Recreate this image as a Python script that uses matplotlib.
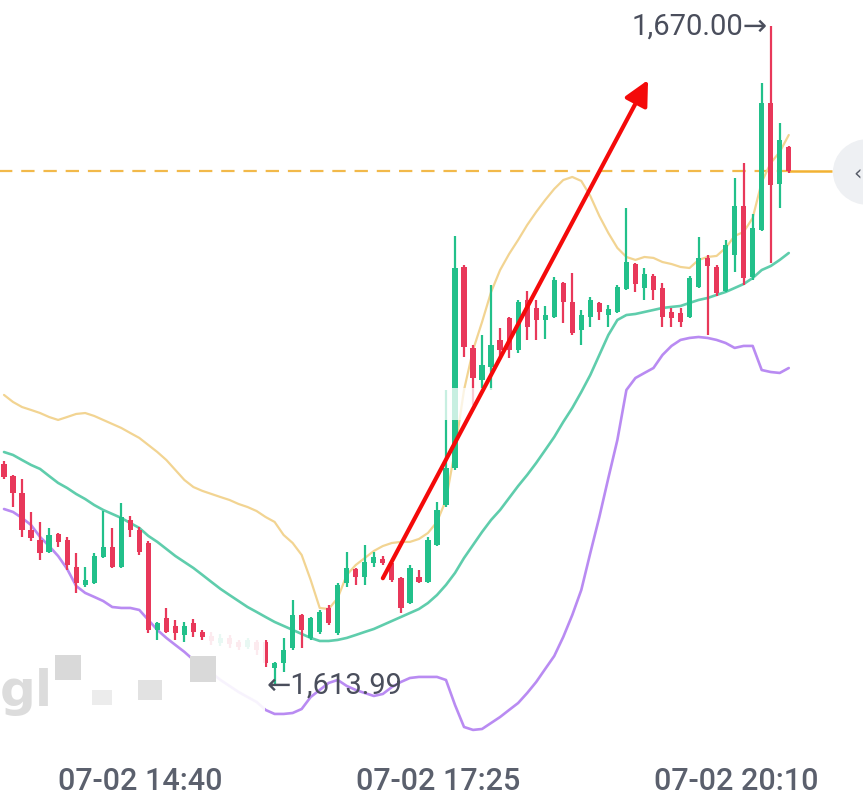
import matplotlib
matplotlib.use("Agg")
import matplotlib.pyplot as plt
from matplotlib.patches import Rectangle, Circle
from matplotlib.transforms import blended_transform_factory
import numpy as np

# ---------------- data (5-minute candles, 07-02) ----------------
opens = [1632.72, 1631.70, 1630.26, 1627.11, 1626.26, 1625.23, 1626.77, 1626.26, 1623.96, 1622.43,
         1622.60, 1624.81, 1625.66, 1623.96, 1627.96, 1627.11, 1626.00, 1618.60, 1619.62, 1618.94,
         1618.17, 1619.19, 1618.43, 1618.09, 1617.49, 1617.92, 1617.58, 1617.15, 1617.58, 1617.58,
         1615.36, 1615.79, 1617.07, 1619.87, 1617.92, 1618.43, 1620.47, 1618.34, 1622.60, 1623.79,
         1623.11, 1624.30, 1624.64, 1624.30, 1623.02, 1620.89, 1623.11, 1622.68, 1625.83, 1629.23,
         1632.38, 1649.49, 1642.60, 1639.87, 1640.98, 1643.28, 1645.15, 1642.43, 1646.68, 1646.00,
         1644.98, 1645.23, 1648.13, 1646.51, 1644.13, 1645.23, 1646.43, 1645.40, 1645.66, 1647.62,
         1649.74, 1647.70, 1648.72, 1647.70, 1645.66, 1645.57, 1645.23, 1647.79, 1650.28, 1649.49,
         1647.45, 1650.53, 1654.68, 1648.64, 1652.64, 1663.44, 1656.55, 1659.70]
highs = [1632.98, 1631.79, 1631.45, 1628.64, 1627.79, 1627.28, 1626.85, 1626.51, 1625.15, 1623.96,
         1625.15, 1628.72, 1627.28, 1629.40, 1628.30, 1627.36, 1626.17, 1619.28, 1620.47, 1619.45,
         1619.28, 1619.53, 1618.60, 1618.43, 1618.26, 1618.17, 1617.75, 1617.92, 1617.75, 1617.75,
         1615.87, 1617.92, 1621.15, 1619.96, 1619.70, 1620.30, 1620.72, 1622.60, 1625.23, 1623.87,
         1625.83, 1625.23, 1624.89, 1624.47, 1623.11, 1624.13, 1623.70, 1626.51, 1629.49, 1639.02,
         1652.13, 1649.66, 1642.85, 1643.70, 1647.96, 1644.30, 1645.23, 1646.68, 1647.45, 1646.68,
         1646.17, 1648.64, 1648.21, 1649.00, 1645.83, 1646.94, 1646.51, 1646.26, 1647.96, 1654.51,
         1649.83, 1649.40, 1648.89, 1648.13, 1646.00, 1646.00, 1648.72, 1652.04, 1650.53, 1649.66,
         1651.79, 1657.06, 1658.34, 1654.00, 1665.15, 1670.00, 1661.74, 1659.79]
lows = [1631.45, 1629.06, 1626.51, 1626.17, 1624.55, 1625.15, 1625.66, 1623.70, 1621.75, 1622.26,
        1622.51, 1624.72, 1623.87, 1623.87, 1626.51, 1624.98, 1618.34, 1617.75, 1618.34, 1617.75,
        1617.58, 1618.00, 1617.75, 1617.32, 1617.24, 1617.07, 1616.90, 1616.98, 1616.47, 1615.45,
        1613.99, 1615.02, 1616.90, 1617.07, 1617.75, 1618.26, 1619.02, 1618.17, 1622.26, 1622.43,
        1622.43, 1623.96, 1624.13, 1622.68, 1620.04, 1620.81, 1622.60, 1622.60, 1625.75, 1629.06,
        1632.21, 1641.83, 1637.74, 1639.19, 1639.02, 1641.75, 1641.75, 1642.17, 1643.28, 1643.28,
        1643.36, 1645.15, 1644.72, 1643.70, 1642.85, 1644.38, 1644.98, 1644.38, 1645.57, 1647.53,
        1647.36, 1646.68, 1646.68, 1644.38, 1644.38, 1644.38, 1645.15, 1647.70, 1643.70, 1647.02,
        1647.36, 1649.06, 1647.96, 1648.38, 1652.55, 1649.83, 1654.51, 1657.49]
closes = [1631.62, 1630.26, 1627.11, 1626.43, 1625.15, 1626.68, 1626.09, 1624.13, 1622.60, 1622.85,
          1624.89, 1625.66, 1623.96, 1628.21, 1627.11, 1625.23, 1618.60, 1619.19, 1618.43, 1618.34,
          1618.94, 1618.43, 1618.00, 1617.66, 1617.92, 1617.41, 1617.15, 1617.75, 1616.90, 1615.79,
          1615.79, 1616.90, 1619.87, 1618.60, 1619.62, 1620.13, 1619.19, 1622.43, 1623.87, 1623.11,
          1624.38, 1624.81, 1624.30, 1622.85, 1620.47, 1623.87, 1622.68, 1626.26, 1628.81, 1632.38,
          1649.40, 1642.68, 1640.04, 1641.15, 1642.85, 1642.43, 1642.43, 1646.51, 1644.38, 1644.98,
          1645.40, 1648.38, 1646.51, 1643.87, 1645.40, 1646.68, 1645.66, 1645.91, 1647.79, 1649.91,
          1648.04, 1648.89, 1647.53, 1645.23, 1645.15, 1644.81, 1648.55, 1650.28, 1649.60, 1647.28,
          1651.36, 1654.68, 1648.55, 1652.81, 1663.44, 1656.47, 1660.30, 1657.66]

boll_upper = [1638.60, 1638.00, 1637.57, 1637.32, 1637.06, 1636.72, 1636.47, 1636.72, 1636.98, 1637.06,
              1636.81, 1636.47, 1636.13, 1635.79, 1635.36, 1634.94, 1634.34, 1633.74, 1633.06, 1632.21,
              1631.36, 1630.76, 1630.43, 1630.17, 1629.91, 1629.66, 1629.32, 1629.06, 1628.72, 1628.21,
              1627.79, 1626.68, 1626.00, 1624.98, 1622.85, 1620.47, 1620.38, 1621.32, 1623.28, 1624.13,
              1624.72, 1625.32, 1625.74, 1626.00, 1626.09, 1626.09, 1626.34, 1626.85, 1627.79, 1629.66,
              1633.91, 1639.02, 1642.43, 1644.81, 1647.36, 1649.23, 1650.60, 1651.79, 1653.06, 1654.17,
              1655.19, 1656.13, 1656.89, 1657.15, 1656.81, 1655.53, 1653.83, 1652.38, 1651.11, 1650.34,
              1650.09, 1650.34, 1650.26, 1649.91, 1649.74, 1649.49, 1649.40, 1650.09, 1650.34, 1650.43,
              1651.11, 1652.13, 1652.47, 1653.66, 1656.72, 1658.34, 1659.28, 1660.72]
boll_mid = [1633.74, 1633.49, 1633.06, 1632.64, 1632.30, 1631.70, 1631.11, 1630.68, 1630.17, 1629.74,
            1629.23, 1628.81, 1628.47, 1628.13, 1627.70, 1627.28, 1626.60, 1626.09, 1625.49, 1624.89,
            1624.38, 1623.87, 1623.28, 1622.68, 1622.09, 1621.57, 1621.06, 1620.55, 1620.13, 1619.70,
            1619.28, 1618.94, 1618.60, 1618.26, 1617.92, 1617.66, 1617.66, 1617.75, 1617.92, 1618.17,
            1618.43, 1618.68, 1619.02, 1619.36, 1619.70, 1620.04, 1620.38, 1620.89, 1621.57, 1622.43,
            1623.45, 1624.72, 1625.83, 1626.94, 1627.96, 1628.81, 1629.83, 1630.85, 1631.79, 1632.81,
            1633.91, 1635.02, 1636.30, 1637.49, 1638.85, 1640.30, 1642.00, 1643.70, 1644.98, 1645.40,
            1645.49, 1645.66, 1645.83, 1646.00, 1646.09, 1646.17, 1646.43, 1646.68, 1646.85, 1647.11,
            1647.36, 1647.70, 1648.04, 1648.55, 1649.23, 1649.57, 1650.09, 1650.68]
boll_lower = [1628.89, 1628.64, 1628.13, 1627.53, 1626.51, 1625.74, 1624.89, 1623.79, 1622.34, 1621.75,
              1621.41, 1621.06, 1620.55, 1620.47, 1620.47, 1620.30, 1619.45, 1618.60, 1617.92, 1617.32,
              1616.73, 1616.05, 1615.45, 1614.94, 1614.34, 1613.83, 1613.32, 1612.89, 1612.47, 1611.79,
              1611.45, 1611.45, 1611.53, 1611.87, 1612.89, 1613.49, 1614.09, 1614.34, 1613.83, 1613.49,
              1613.23, 1612.98, 1613.15, 1613.74, 1614.17, 1614.51, 1614.60, 1614.60, 1614.60, 1614.34,
              1612.21, 1610.34, 1610.09, 1610.17, 1610.68, 1611.19, 1611.79, 1612.38, 1613.23, 1614.17,
              1615.28, 1616.38, 1618.00, 1619.87, 1622.00, 1625.15, 1628.21, 1631.53, 1634.77, 1639.02,
              1640.04, 1640.47, 1640.89, 1642.00, 1642.77, 1643.28, 1643.45, 1643.53, 1643.45, 1643.28,
              1643.02, 1642.60, 1642.77, 1642.77, 1640.72, 1640.55, 1640.47, 1640.89]

tick_index = [15, 48, 81]
tick_labels = ["07-02 14:40", "07-02 17:25", "07-02 20:10"]
high_label = "1,670.00→"
low_label = "←1,613.99"
high_value = 1670.00
low_value = 1613.99
last_price = closes[-1]
arrow_start = (42.0, 1623.0)
arrow_end = (71.4, 1665.4)

# ---------------- styling ----------------
GREEN = "#22c08a"
RED = "#e8385a"
C_UP = "#f2d492"
C_MID = "#5fcdac"
C_LOW = "#b98bf2"

fig = plt.figure(figsize=(8.63, 8.07), dpi=100)
ax = fig.add_axes([0, 0, 1, 1])
ax.set_xlim(-0.443, 95.23)
ax.set_ylim(1603.53, 1672.21)
ax.axis("off")

x = np.arange(len(opens))
o = np.array(opens); h = np.array(highs); l = np.array(lows); c = np.array(closes)
up = c >= o
cols = np.where(up, GREEN, RED)

# bands
ax.plot(x, boll_upper, color=C_UP, lw=1.6, zorder=2, solid_capstyle="round")
ax.plot(x, boll_mid, color=C_MID, lw=1.9, zorder=2, solid_capstyle="round")
ax.plot(x, boll_lower, color=C_LOW, lw=1.9, zorder=2, solid_capstyle="round")

# candles
ax.vlines(x, l, h, colors=cols, lw=1.6, zorder=3)
bottoms = np.minimum(o, c)
heights = np.maximum(np.abs(c - o), 0.12)
ax.bar(x, heights, bottom=bottoms, width=0.58, color=cols, zorder=4, linewidth=0)

# current price line
ax.hlines(last_price, -1, len(opens) - 1, colors="#f2b94a", lw=1.6,
          linestyles=(0, (6, 4)), zorder=1)
ax.hlines(last_price, len(opens) - 1, len(opens) + 3.8, colors="#f2b233", lw=1.8, zorder=1)

# right-side circle button
circ = Circle((1.006, 1 - 172 / 807), 0.04, transform=ax.transAxes, color="#eef0f3",
              zorder=5, clip_on=False)
ax.add_patch(circ)
ax.text(853 / 863, 1 - 173 / 807, "‹", transform=ax.transAxes, fontsize=15, color="#555a66",
        ha="left", va="center", zorder=6)

# watermark fades
for (x0, y0, w, hh, a) in [(205, 628, 60, 95, 0.9), (440, 388, 90, 32, 0.75)]:
    ax.add_patch(Rectangle((x0 / 863, 1 - (y0 + hh) / 807), w / 863, hh / 807,
                           transform=ax.transAxes, color="white", alpha=a, zorder=7, lw=0))
ax.text(0.0, 1 - 692 / 807, "gl", transform=ax.transAxes, fontsize=36, fontweight="bold",
        color="#dcdcdc", ha="left", va="center", zorder=8)
for (x0, y0, w, hh, colr) in [(55, 655, 26, 25, "#d9d9d9"), (138, 680, 24, 20, "#e2e2e2"),
                              (190, 656, 26, 26, "#d9d9d9"), (92, 690, 20, 15, "#ececec")]:
    ax.add_patch(Rectangle((x0 / 863, 1 - (y0 + hh) / 807), w / 863, hh / 807,
                           transform=ax.transAxes, color=colr, zorder=8, lw=0))

# red arrow
ax.annotate("", xy=arrow_end, xytext=arrow_start,
            arrowprops=dict(arrowstyle="-|>,head_length=0.6,head_width=0.3",
                            mutation_scale=25, lw=3.0, color="#f40a0a",
                            shrinkA=0, shrinkB=0), zorder=9)

# extreme labels
ax.annotate(high_label, xy=(85, high_value), xytext=(-3, -1), textcoords="offset pixels",
            ha="right", va="center", fontsize=21, color="#4a4e5c",
            family=["Roboto", "DejaVu Sans"], zorder=10)
ax.annotate(low_label, xy=(30, low_value), xytext=(-8, -2), textcoords="offset pixels",
            ha="left", va="center", fontsize=21, color="#4a4e5c",
            family=["Roboto", "DejaVu Sans"], zorder=10)

# time labels
tb = blended_transform_factory(ax.transData, ax.transAxes)
for ti, lab in zip(tick_index, tick_labels):
    ax.text(ti + 0.15, 1 - 782 / 807, lab, transform=tb, ha="center", va="center",
            fontsize=22, color="#5b606d", fontweight="medium",
            family=["Roboto", "DejaVu Sans"])

fig.savefig("out.png", dpi=100, facecolor="white")
